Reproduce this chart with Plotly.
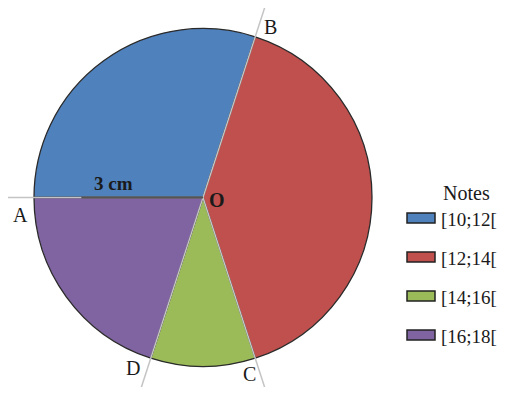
import math
import plotly.graph_objects as go

# ---- data ----
categories = ["[10;12[", "[12;14[", "[14;16[", "[16;18["]
values = [30, 40, 10, 20]
colors = ["#4F81BD", "#C0504D", "#9BBB59", "#8064A2"]
point_labels = ["A", "B", "C", "D"]   # boundary points, clockwise from A
legend_title = "Notes"
radius_label = "3 cm"
center_label = "O"

# ---- layout geometry (page pixels; page body has an 8px margin) ----
PAGE_W, PAGE_H = 507, 395
OFF = 8
W, H = PAGE_W - 2 * OFF, PAGE_H - 2 * OFF
cx, cy, R = 203, 197.5, 169
START = 270  # first slice starts at 9 o'clock, clockwise

def px(x, y):
    return (x - OFF) / W, 1 - (y - OFF) / H

FONT = "Liberation Serif, Times New Roman, serif"
INK = "#1a1a1a"

dx0, dy0 = px(cx - R, cy + R)
dx1, dy1 = px(cx + R, cy - R)
fig = go.Figure(go.Pie(
    labels=categories, values=values, sort=False, direction="clockwise",
    rotation=START, textinfo="none", hoverinfo="label+percent",
    marker=dict(colors=colors, line=dict(color="#2a2a2a", width=1.3)),
    domain=dict(x=[dx0, dx1], y=[dy0, dy1]),
    showlegend=False,
))

shapes = []
annotations = []

# boundary angles derived from the values
total = sum(values)
angles = []
acc = START
for v in values:
    angles.append(acc % 360)
    acc += v / total * 360

EXT = 36
label_off = {"A": (-14, 17), "B": (15, -10), "C": (-6, 16), "D": (-18, 10)}
for name, th in zip(point_labels, angles):
    s, c = math.sin(math.radians(th)), -math.cos(math.radians(th))
    x0, y0 = px(cx, cy)
    x1, y1 = px(cx + s * (R + EXT), cy + c * (R + EXT))
    shapes.append(dict(type="line", xref="paper", yref="paper", x0=x0, y0=y0, x1=x1, y1=y1,
                       line=dict(color="#c4c4c4", width=1.5)))
    ex, ey = cx + s * R, cy + c * R
    dx, dy = label_off[name]
    lx, ly = px(ex + dx, ey + dy)
    annotations.append(dict(x=lx, y=ly, xref="paper", yref="paper", text=name, showarrow=False,
                            font=dict(family=FONT, size=20, color=INK), xanchor="center", yanchor="middle"))

# radius measure line (A -> O)
x0, y0 = px(cx - R * 0.72, cy)
x1, y1 = px(cx, cy)
shapes.append(dict(type="line", xref="paper", yref="paper", x0=x0, y0=y0, x1=x1, y1=y1,
                   line=dict(color="#555555", width=1.8)))
lx, ly = px(cx - R * 0.53, cy - 14)
annotations.append(dict(x=lx, y=ly, xref="paper", yref="paper", text="<b>%s</b>" % radius_label,
                        showarrow=False, font=dict(family=FONT, size=19, color=INK),
                        xanchor="center", yanchor="middle"))
lx, ly = px(cx + 14, cy + 2)
annotations.append(dict(x=lx, y=ly, xref="paper", yref="paper", text="<b>%s</b>" % center_label,
                        showarrow=False, font=dict(family=FONT, size=20, color=INK),
                        xanchor="center", yanchor="middle"))

# legend
lx, ly = px(466, 193)
annotations.append(dict(x=lx, y=ly, xref="paper", yref="paper", text=legend_title, showarrow=False,
                        font=dict(family=FONT, size=20, color=INK), xanchor="center", yanchor="middle"))
for i, (cat, col) in enumerate(zip(categories, colors)):
    yc = 218 + 39 * i
    bx0, by0 = px(407, yc - 5)
    bx1, by1 = px(435, yc + 5)
    shapes.append(dict(type="rect", xref="paper", yref="paper", x0=bx0, y0=by0, x1=bx1, y1=by1,
                       fillcolor=col, line=dict(color="#222222", width=1.5)))
    tx, ty = px(439, yc + 1)
    annotations.append(dict(x=tx, y=ty, xref="paper", yref="paper", text=cat, showarrow=False,
                            font=dict(family=FONT, size=19, color=INK), xanchor="left", yanchor="middle"))

fig.update_layout(
    width=W, height=H, margin=dict(l=0, r=0, t=0, b=0),
    paper_bgcolor="white", plot_bgcolor="white",
    shapes=shapes, annotations=annotations,
)
fig.write_html("out.html")
